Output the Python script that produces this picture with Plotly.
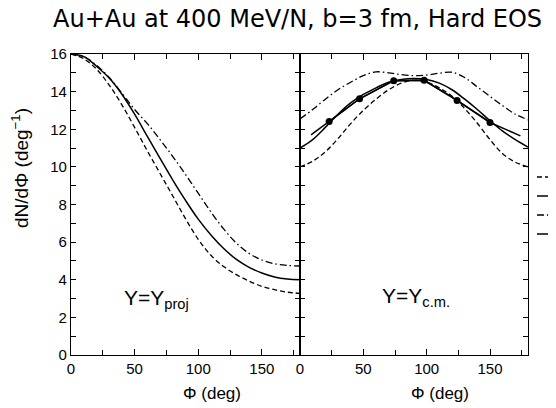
import plotly.graph_objects as go
from plotly.subplots import make_subplots

# ---- data ----
phi = [0, 10, 20, 30, 40, 50, 60, 70, 80, 90, 100, 110, 120, 130, 140, 150, 160, 170, 180]

proj_dashed = [16.0, 15.75, 15.2, 14.35, 13.3, 12.1, 10.85, 9.65, 8.45, 7.25, 6.15, 5.3, 4.7, 4.27, 3.93, 3.65, 3.47, 3.34, 3.28]
proj_solid = [16.0, 15.86, 15.35, 14.72, 13.86, 12.8, 11.62, 10.45, 9.3, 8.22, 7.22, 6.38, 5.66, 5.08, 4.66, 4.36, 4.15, 4.04, 4.0]
proj_dashdot = [16.0, 15.87, 15.4, 14.75, 13.92, 13.05, 12.3, 11.45, 10.55, 9.6, 8.6, 7.6, 6.7, 5.95, 5.4, 5.05, 4.85, 4.76, 4.73]

cm_dashed = [10.0, 10.3, 10.8, 11.5, 12.3, 13.0, 13.6, 14.1, 14.45, 14.6, 14.5, 14.2, 13.75, 13.1, 12.32, 11.45, 10.7, 10.25, 10.0]
cm_solid = [11.0, 11.45, 12.1, 12.8, 13.4, 13.85, 14.2, 14.5, 14.65, 14.7, 14.65, 14.45, 14.1, 13.6, 13.05, 12.45, 11.9, 11.45, 11.05]
cm_dashdot = [12.55, 13.05, 13.6, 14.1, 14.5, 14.85, 15.05, 15.0, 14.9, 14.85, 14.88, 14.98, 15.03, 14.75, 14.25, 13.75, 13.25, 12.8, 12.5]

# line through the points (extends past the first and last marker)
cm_line_phi = [8.7, 23, 47, 74, 98, 124, 150, 174]
cm_line_val = [11.7, 12.41, 13.62, 14.58, 14.6, 13.53, 12.36, 11.65]
# marked points
cm_pts_phi = [23, 47, 74, 98, 124, 150]
cm_pts_val = [12.41, 13.62, 14.58, 14.6, 13.53, 12.36]

x_ticks = [0, 50, 100, 150]
y_ticks = [0, 2, 4, 6, 8, 10, 12, 14, 16]

title_text = "Au+Au at 400 MeV/N, b=3 fm, Hard EOS"
ytitle_text = "dN/dΦ (deg<sup>−1</sup>)"
xtitle_text = "Φ (deg)"

# ---- figure ----
FONT = "Liberation Sans"
NARROW = "Liberation Sans Narrow, Liberation Sans"
fig = make_subplots(rows=1, cols=2, shared_yaxes=True, horizontal_spacing=0)

DASH = "5px,3px"
DASHDOT = "7px,3px,1.5px,3px"
LW = 1.3
NB = "\u00a0"

for col, (d, s, dd) in enumerate([(proj_dashed, proj_solid, proj_dashdot),
                                   (cm_dashed, cm_solid, cm_dashdot)], start=1):
    show = col == 2
    fig.add_trace(go.Scatter(x=phi, y=d, mode="lines", name=NB, showlegend=show,
                             line=dict(color="black", width=LW, dash=DASH, shape="spline")),
                  row=1, col=col)
    fig.add_trace(go.Scatter(x=phi, y=s, mode="lines", name=NB, showlegend=show,
                             line=dict(color="black", width=LW + 0.2, shape="spline")),
                  row=1, col=col)
    fig.add_trace(go.Scatter(x=phi, y=dd, mode="lines", name=NB, showlegend=show,
                             line=dict(color="black", width=LW, dash=DASHDOT, shape="spline")),
                  row=1, col=col)

fig.add_trace(go.Scatter(x=cm_line_phi, y=cm_line_val, mode="lines", showlegend=False,
                         line=dict(color="black", width=LW + 0.2)),
              row=1, col=2)
fig.add_trace(go.Scatter(x=cm_pts_phi, y=cm_pts_val, mode="lines+markers", name=NB,
                         showlegend=True,
                         line=dict(color="black", width=LW + 0.2),
                         marker=dict(color="black", size=7)),
              row=1, col=2)

# the page body adds an 8 px offset; positions below are in figure pixels
W, H = 556, 408
L, R, T, B = 63, 36, 46, 61
fig.update_layout(
    width=W, height=H,
    margin=dict(l=L, r=R, t=T, b=B, autoexpand=False),
    paper_bgcolor="white", plot_bgcolor="white",
    font=dict(family=FONT, size=15, color="black"),
    showlegend=True,
    legend=dict(x=(524 - L) / (W - L - R), y=(H - B - 154.5) / (H - B - T),
                xanchor="left", yanchor="top",
                bgcolor="rgba(0,0,0,0)", font=dict(size=12),
                tracegroupgap=0, itemwidth=30),
)

split = (292 - L) / (W - L - R)
axis_common = dict(range=[0, 180], showgrid=False, zeroline=False, showline=True,
                   linecolor="black", linewidth=1.2, mirror="allticks",
                   ticks="inside", ticklen=6, tickwidth=1, tickcolor="black",
                   tickvals=x_ticks, tickfont=dict(size=15, family=FONT),
                   minor=dict(dtick=25, tick0=0, ticks="inside", ticklen=5, tickcolor="black"))
fig.update_xaxes(domain=[0, split], **axis_common, row=1, col=1)
fig.update_xaxes(domain=[split, 1], **axis_common, row=1, col=2)

y_common = dict(range=[0, 16], showgrid=False, zeroline=False, showline=True,
                linecolor="black", linewidth=1.2, mirror="allticks",
                ticks="inside", ticklen=5, tickwidth=1, tickcolor="black",
                tickvals=y_ticks, tickfont=dict(size=15, family=FONT),
                minor=dict(dtick=1, tick0=0, ticks="inside", ticklen=5, tickcolor="black"))
fig.update_yaxes(**y_common, row=1, col=1)
fig.update_yaxes(**y_common, showticklabels=False, row=1, col=2)

def px_x(px):
    return (px - L) / (W - L - R)

def px_y(py):
    return (H - B - py) / (H - B - T)

ann = dict(xref="paper", yref="paper", showarrow=False, xanchor="center", yanchor="middle")
fig.add_annotation(text=title_text, x=px_x(289), y=px_y(11), **ann,
                   font=dict(size=24, family="DejaVu Sans"))
fig.add_annotation(text=ytitle_text, x=px_x(12), y=px_y(160), textangle=-90, **ann,
                   font=dict(size=19, family=NARROW))
fig.add_annotation(text=xtitle_text, x=px_x(204), y=px_y(385), **ann,
                   font=dict(size=17, family=FONT))
fig.add_annotation(text=xtitle_text, x=px_x(432), y=px_y(385), **ann,
                   font=dict(size=17, family=FONT))
fig.add_annotation(text="Y=Y<sub>proj</sub>", x=40, y=3.0, xref="x", yref="y",
                   xanchor="left", yanchor="middle", showarrow=False,
                   font=dict(size=21, family=FONT))
fig.add_annotation(text="Y=Y<sub>c.m.</sub>", x=63, y=3.1, xref="x2", yref="y2",
                   xanchor="left", yanchor="middle", showarrow=False,
                   font=dict(size=21, family=FONT))

fig.write_html("out.html")
